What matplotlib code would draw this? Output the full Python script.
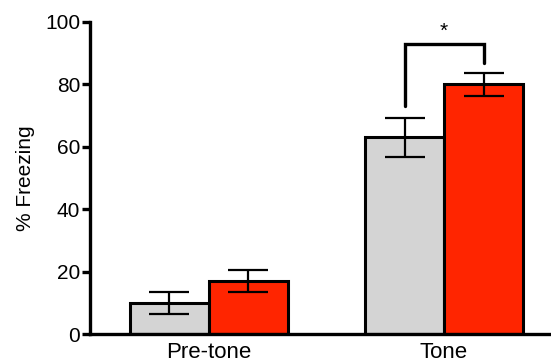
import matplotlib.pyplot as plt
import numpy as np

plt.rcParams['font.family'] = ['Liberation Sans', 'DejaVu Sans']

groups = ["Pre-tone", "Tone"]
control_mean = [10, 63]
control_sem = [3.5, 6.2]
treated_mean = [17, 80]
treated_sem = [3.6, 3.6]

gray = "#d4d4d4"
red = "#ff2500"
width = 0.336

fig = plt.figure(figsize=(5.51, 3.64), dpi=100)
ax = fig.add_axes([0.1633, 0.0824, 0.8367, 0.8572])

x = np.arange(len(groups))
xl = x - width / 2
xr = x + width / 2

ax.bar(xl, control_mean, width, color=gray, edgecolor="k", linewidth=2.2, zorder=2)
ax.bar(xr, treated_mean, width, color=red, edgecolor="k", linewidth=2.2, zorder=2)
for xs, m, s in [(xl, control_mean, control_sem), (xr, treated_mean, treated_sem)]:
    ax.errorbar(xs, m, yerr=s, fmt="none", ecolor="k", elinewidth=1.6,
                capsize=14.5, capthick=1.6, zorder=3)

# significance bracket on Tone
ax.plot([xl[1], xl[1], xr[1], xr[1]], [73, 93, 93, 87], color="k", lw=2.4,
        solid_capstyle="round", solid_joinstyle="miter", zorder=4)
ax.text(x[1], 94, "*", ha="center", va="bottom", fontsize=15)

ax.set_xlim(-0.506, 1.455)
ax.set_ylim(0, 100)
ax.set_yticks([0, 20, 40, 60, 80, 100])
ax.set_xticks(x)
ax.set_xticklabels(groups)
ax.tick_params(axis="y", length=6, width=2.4, labelsize=15, pad=1)
ax.tick_params(axis="x", length=0, labelsize=16, pad=6)
ax.set_ylabel("% Freezing", fontsize=15, labelpad=7)

for side in ["top", "right"]:
    ax.spines[side].set_visible(False)
for side in ["left", "bottom"]:
    ax.spines[side].set_linewidth(2.4)

fig.savefig("out.png", dpi=100)
